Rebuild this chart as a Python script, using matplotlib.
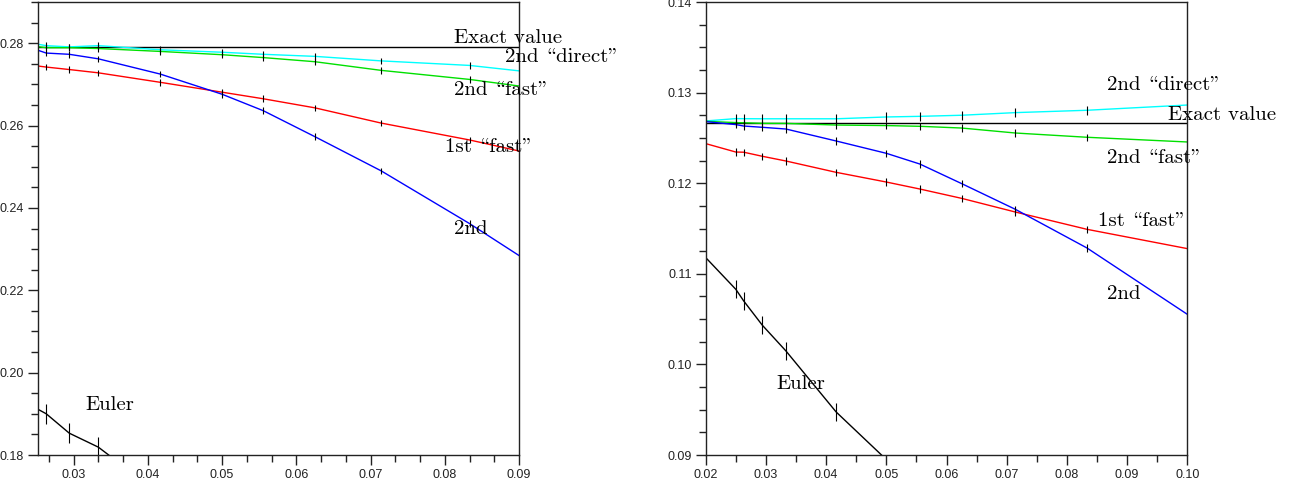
import matplotlib
matplotlib.use("Agg")
import matplotlib.pyplot as plt
from matplotlib.ticker import MultipleLocator, FormatStrFormatter

# ---------------- data ----------------
h_left = [0.025, 1/38, 1/34, 1/30, 1/24, 1/20, 1/18, 1/16, 1/14, 1/12, 0.1]
left_direct2 = [0.2798, 0.2794, 0.2791, 0.2794, 0.2784, 0.2778, 0.2773, 0.2768, 0.2757, 0.2746, 0.2713]
left_fast2 = [0.2792, 0.2789, 0.2789, 0.2787, 0.2780, 0.2772, 0.2765, 0.2755, 0.2734, 0.2712, 0.2672]
left_fast1 = [0.2745, 0.2742, 0.2736, 0.2728, 0.2705, 0.2681, 0.2665, 0.2643, 0.2606, 0.2565, 0.2498]
left_second = [0.2784, 0.2776, 0.2773, 0.2762, 0.2725, 0.2676, 0.2636, 0.2573, 0.2490, 0.2362, 0.2168]
left_euler = [0.1913, 0.1900, 0.1853, 0.1819, 0.1705]
left_exact = 0.2791
left_err = [0.0008] * 10 + [0.0]
left_euler_err = [0.0024] * 5

h_right = [0.02, 0.025, 1/38, 1/34, 1/30, 1/24, 1/20, 1/18, 1/16, 1/14, 1/12, 0.1]
right_direct2 = [0.12687, 0.12713, 0.12712, 0.12711, 0.12711, 0.12711, 0.12731, 0.12738, 0.12750, 0.12779, 0.12805, 0.12863]
right_fast2 = [0.12683, 0.12669, 0.12667, 0.12661, 0.12660, 0.12642, 0.12636, 0.12628, 0.12609, 0.12554, 0.12507, 0.12455]
right_second = [0.12680, 0.12647, 0.12631, 0.12617, 0.12598, 0.12466, 0.12330, 0.12212, 0.11996, 0.11712, 0.11285, 0.10553]
right_fast1 = [0.12437, 0.12344, 0.12342, 0.12297, 0.12245, 0.12120, 0.12013, 0.11936, 0.11833, 0.11682, 0.11491, 0.11278]
right_euler = [0.11179, 0.10829, 0.10700, 0.10432, 0.10148, 0.09475, 0.0895]
right_exact = 0.12669
right_err_direct = [0.0] + [0.0005] * 10 + [0.0]
right_err_other = [0.0] + [0.0004] * 10 + [0.0]
right_euler_err = [0.0] + [0.001] * 5 + [0.0]

labels = ["Exact value", "2nd \\direct\"", "2nd \\fast\"", "1st \\fast\"", "2nd", "Euler"]
left_label_pos = [(0.08128, 0.28015), (0.08816, 0.27538), (0.08118, 0.26744),
                  (0.08007, 0.25353), (0.08118, 0.23361), (0.03157, 0.19103)]
right_label_pos = [(0.09685, 0.12698), (0.08661, 0.13025), (0.08666, 0.12227),
                   (0.08522, 0.11528), (0.08666, 0.10719), (0.03179, 0.09733)]

C_CYAN = "#00ffff"
C_GREEN = "#00e000"
C_RED = "#ff0000"
C_BLUE = "#0000ff"

tick_font = ["Liberation Sans Narrow", "Liberation Sans"]
label_font = ["cmr10", "DejaVu Serif"]

fig = plt.figure(figsize=(13.02, 4.88), dpi=100)
axL = fig.add_axes([38 / 1302, 33 / 488, 481 / 1302, 453 / 488])
axR = fig.add_axes([705.7 / 1302, 33 / 488, 481.6 / 1302, 453 / 488])


def series(ax, x, y, err, color):
    ax.plot(x, y, color=color, lw=1.0, zorder=2)
    ax.errorbar(x, y, yerr=err, fmt="none", ecolor="black", elinewidth=0.8,
                capsize=0, zorder=3)


def style(ax):
    for sp in ax.spines.values():
        sp.set_color("#222222")
        sp.set_linewidth(1.0)
    ax.tick_params(which="both", direction="out", color="#222222", width=1.0,
                   labelsize=9, labelcolor="#222222", pad=3)
    ax.tick_params(which="major", length=7)
    ax.tick_params(which="minor", length=5)
    for lab in ax.get_xticklabels() + ax.get_yticklabels():
        lab.set_family(tick_font)


# left panel
axL.axhline(left_exact, color="black", lw=1.0, zorder=1.5)
series(axL, h_left, left_direct2, left_err, C_CYAN)
series(axL, h_left, left_fast2, left_err, C_GREEN)
series(axL, h_left, left_fast1, left_err, C_RED)
series(axL, h_left, left_second, left_err, C_BLUE)
series(axL, h_left[:len(left_euler)], left_euler, left_euler_err, "black")
axL.set_xlim(0.0252, 0.09)
axL.set_ylim(0.18, 0.29)
axL.xaxis.set_major_locator(MultipleLocator(0.01))
axL.xaxis.set_minor_locator(MultipleLocator(0.01 / 3))
axL.yaxis.set_major_locator(MultipleLocator(0.02))
axL.yaxis.set_minor_locator(MultipleLocator(0.005))
axL.xaxis.set_major_formatter(FormatStrFormatter("%.2f"))
axL.yaxis.set_major_formatter(FormatStrFormatter("%.2f"))
style(axL)
for txt, (x, y) in zip(labels, left_label_pos):
    axL.text(x, y, txt, fontsize=15, family=label_font, va="baseline",
             ha="left", clip_on=False, zorder=5)

# right panel
axR.axhline(right_exact, color="black", lw=1.0, zorder=1.5)
series(axR, h_right, right_direct2, right_err_direct, C_CYAN)
series(axR, h_right, right_fast2, right_err_other, C_GREEN)
series(axR, h_right, right_fast1, right_err_other, C_RED)
series(axR, h_right, right_second, right_err_other, C_BLUE)
series(axR, h_right[:len(right_euler)], right_euler, right_euler_err, "black")
axR.set_xlim(0.02, 0.10)
axR.set_ylim(0.09, 0.14)
axR.xaxis.set_major_locator(MultipleLocator(0.01))
axR.xaxis.set_minor_locator(MultipleLocator(0.005))
axR.yaxis.set_major_locator(MultipleLocator(0.01))
axR.yaxis.set_minor_locator(MultipleLocator(0.0025))
axR.xaxis.set_major_formatter(FormatStrFormatter("%.2f"))
axR.yaxis.set_major_formatter(FormatStrFormatter("%.2f"))
style(axR)
for txt, (x, y) in zip(labels, right_label_pos):
    axR.text(x, y, txt, fontsize=15, family=label_font, va="baseline",
             ha="left", clip_on=False, zorder=5)

fig.savefig("out.png", dpi=100)
